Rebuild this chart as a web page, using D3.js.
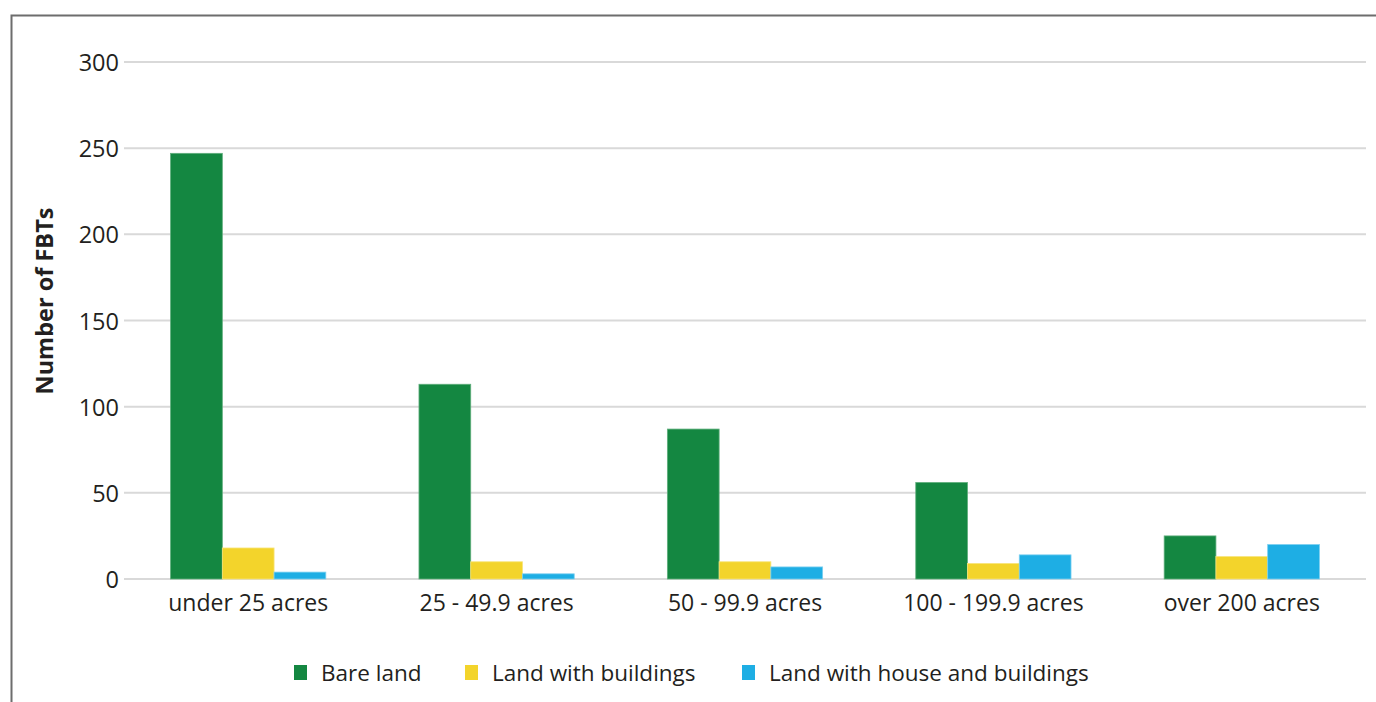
<!DOCTYPE html>
<html><head><meta charset="utf-8">
<script src="https://cdn.jsdelivr.net/npm/d3@7"></script>
<style>body{margin:0;background:#fff;} svg{display:block;}</style>
</head><body>
<script>
const categories = ["under 25 acres","25 - 49.9 acres","50 - 99.9 acres","100 - 199.9 acres","over 200 acres"];
const seriesNames = ["Bare land","Land with buildings","Land with house and buildings"];
const bareLand = [247,113,87,56,25];
const landWithBuildings = [18,10,10,9,13];
const landWithHouse = [4,3,7,14,20];
const yTicks = [0,50,100,150,200,250,300];
const colors = ["#148741","#f3d42b","#1eaee4"];
const strokes = ["#5fae7c","#f8e47a","#7ccff0"];

const W=1376,H=702;
const svg=d3.select("body").append("svg").attr("width",W).attr("height",H);
const font="'Open Sans', sans-serif";

// frame
svg.append("path").attr("d",`M11.5,${H} L11.5,15.5 L${W},15.5`).attr("fill","none").attr("stroke","#6d6d6d").attr("stroke-width",2);

const x=d3.scaleBand().domain(categories).range([124,1366]).paddingInner(0.375).paddingOuter(0.1875);
const xs=d3.scaleBand().domain(seriesNames).range([0,x.bandwidth()]);
const y=d3.scaleLinear().domain([0,300]).range([579,62]);

// gridlines
svg.append("g").selectAll("line").data(yTicks).join("line")
 .attr("x1",124).attr("x2",1366).attr("y1",d=>y(d)).attr("y2",d=>y(d))
 .attr("stroke","#d9d9d9").attr("stroke-width",2);

// y labels
const yAxis=d3.axisLeft(y).tickValues(yTicks).tickSize(0).tickPadding(5);
const gy=svg.append("g").attr("transform","translate(124,1)").call(yAxis);
gy.select(".domain").remove();
gy.selectAll("text").attr("font-family",font).attr("font-size",23.5).attr("fill","#231f20");

// bars
const series=[bareLand,landWithBuildings,landWithHouse];
const data=[];
categories.forEach((c,i)=>series.forEach((s,j)=>data.push({c,s:seriesNames[j],v:s[i],j})));
svg.append("g").selectAll("rect").data(data).join("rect")
 .attr("x",d=>x(d.c)+xs(d.s)).attr("width",xs.bandwidth())
 .attr("y",d=>y(d.v)).attr("height",d=>y(0)-y(d.v))
 .attr("fill",d=>colors[d.j]).attr("stroke",d=>strokes[d.j]).attr("stroke-width",0.8);

// x labels
const xAxis=d3.axisBottom(x).tickSize(0).tickPadding(15);
const gx=svg.append("g").attr("transform","translate(0,580)").call(xAxis);
gx.select(".domain").remove();
gx.selectAll("text").attr("font-family",font).attr("font-size",23).attr("fill","#231f20");

// y title
svg.append("text").attr("transform","translate(53,301) rotate(-90)").attr("text-anchor","middle")
 .attr("font-family",font).attr("font-weight","bold").attr("font-size",23.5).attr("fill","#231f20").text("Number of FBTs");

// legend
const legX=[294,465,742];
const lg=svg.append("g").selectAll("g").data(seriesNames).join("g").attr("transform",(d,i)=>`translate(${legX[i]},665)`);
lg.append("rect").attr("width",13).attr("height",15).attr("fill",(d,i)=>colors[i]);
lg.append("text").attr("x",27).attr("y",16).attr("font-family",font).attr("font-size",22.5).attr("fill","#231f20").text(d=>d);
</script>
</body></html>
